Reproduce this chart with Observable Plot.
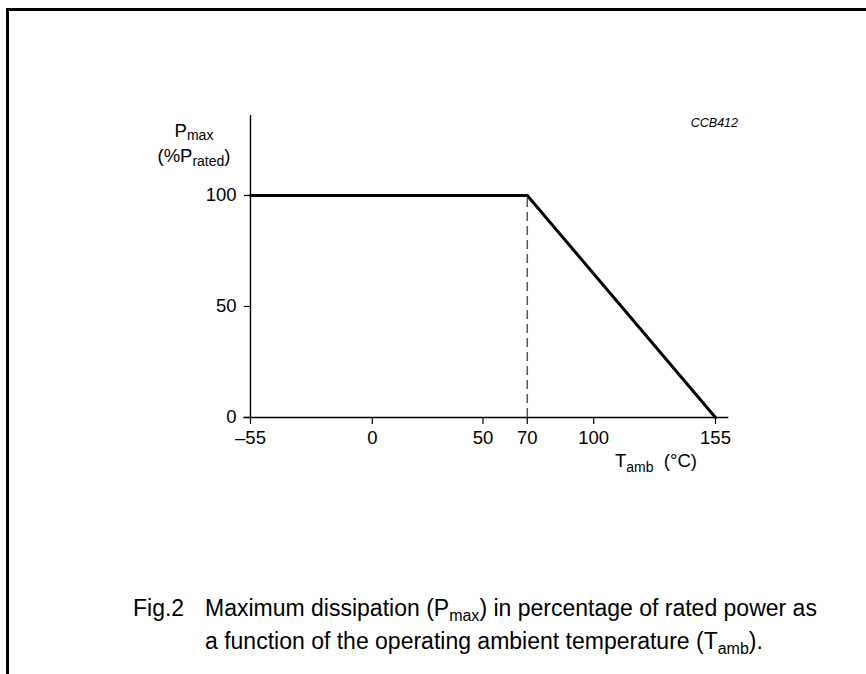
<!DOCTYPE html>
<html>
<head>
<meta charset="utf-8">
<script src="https://cdn.jsdelivr.net/npm/d3@7"></script>
<script src="https://cdn.jsdelivr.net/npm/@observablehq/plot@0.6"></script>
<style>
  html, body { margin: 0; padding: 0; background: #fff; }
  #wrap { position: relative; width: 866px; height: 674px; overflow: hidden; font-family: "Liberation Sans", Arial, sans-serif; }
  #frame { position: absolute; left: 6px; top: 8px; width: 900px; height: 700px; border-top: 3px solid #000; border-left: 3px solid #000; }
  #chart { position: absolute; left: 0; top: 0; }
  #labels { position: absolute; left: 0; top: 0; }
</style>
</head>
<body>
<div id="wrap">
  <div id="frame"></div>
  <div id="chart"></div>
  <svg id="labels" width="866" height="674" font-family="Liberation Sans, Arial, sans-serif" fill="#000">
    <text x="194" y="137" font-size="18.5" text-anchor="middle">P<tspan font-size="14" dy="3">max</tspan></text>
    <text x="194" y="162" font-size="18.5" text-anchor="middle">(%P<tspan font-size="14" dy="4">rated</tspan><tspan dy="-4">)</tspan></text>
    <text x="738" y="127" font-size="12.5" font-style="italic" text-anchor="end">CCB412</text>
    <text x="615" y="467" font-size="18.5">T<tspan font-size="14" dy="5">amb</tspan><tspan dy="-5" xml:space="preserve">  (°C)</tspan></text>
    <text x="133" y="616" font-size="23">Fig.2</text>
    <text x="205" y="616" font-size="23">Maximum dissipation (P<tspan font-size="16" dy="5">max</tspan><tspan dy="-5">) in percentage of rated power as</tspan></text>
    <text x="205" y="649" font-size="23">a function of the operating ambient temperature (T<tspan font-size="16" dy="5">amb</tspan><tspan dy="-5">).</tspan></text>
  </svg>
</div>
<script>
// Derating curve: temperature (°C) vs max dissipation (% of rated)
const temps = [-55, 70, 155];
const power = [100, 100, 0];
const kneeTemp = [70];
const kneePower = [100];
const xTicks = [-55, 0, 50, 70, 100, 155];
const yTicks = [0, 50, 100];
const xDomain = [-55, 155];
const yDomain = [0, 136];
const xAxisExtent = [-58, 161];

const curve = temps.map((t, i) => ({t, p: power[i]}));

const chart = Plot.plot({
  width: 866,
  height: 674,
  marginLeft: 250,
  marginRight: 151,
  marginTop: 115,
  marginBottom: 257,
  style: { fontFamily: "Liberation Sans, Arial, sans-serif", background: "transparent", color: "#000" },
  x: { domain: xDomain, axis: null },
  y: { domain: yDomain, axis: null },
  marks: [
    Plot.ruleY([0], { x1: xAxisExtent[0], x2: xAxisExtent[1], stroke: "#000", strokeWidth: 1.4 }),
    Plot.ruleX([xDomain[0]], { y1: yDomain[0], y2: yDomain[1], stroke: "#000", strokeWidth: 1.4 }),
    Plot.ruleX(kneeTemp, { y1: 0, y2: kneePower[0], stroke: "#555", strokeWidth: 1.5, strokeDasharray: "9,5" }),
    Plot.line(curve, { x: "t", y: "p", stroke: "#000", strokeWidth: 3 }),
    Plot.axisX({ ticks: xTicks, label: null, tickSize: 7, tickPadding: 6, fontSize: 18.5, tickFormat: d => d < 0 ? "\u2013" + Math.abs(d) : String(d), stroke: "#000", strokeWidth: 1.2 }),
    Plot.axisY({ ticks: yTicks, label: null, tickSize: 6, tickPadding: 8, fontSize: 18.5, stroke: "#000", strokeWidth: 1.2 })
  ]
});
document.getElementById("chart").appendChild(chart);
</script>
</body>
</html>
